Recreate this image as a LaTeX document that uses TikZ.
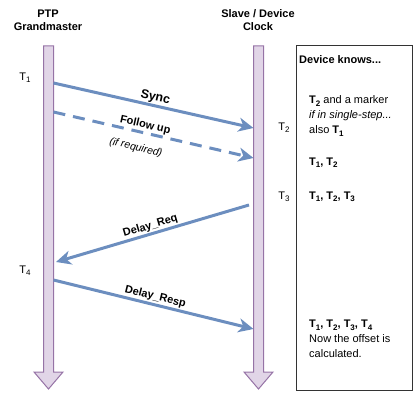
\documentclass[tikz,border=0pt]{standalone}
\usepackage{fontspec}
\setmainfont{Liberation Sans}
\usetikzlibrary{arrows.meta}
\definecolor{lifefill}{HTML}{E1D5E7}
\definecolor{lifedraw}{HTML}{9673A6}
\definecolor{msgblue}{HTML}{6C8EBF}
\newcommand\tsb[1]{T\raisebox{-.4ex}{\fontsize{8}{8}\selectfont #1}}
\tikzset{
  lifeline/.style={fill=lifefill,draw=lifedraw,line width=1pt},
  msg/.style={draw=msgblue,line width=3pt,-{Stealth[length=15pt,width=14pt,inset=4.5pt]}},
  msglabel/.style={font=\fontsize{11}{13}\selectfont\bfseries,sloped,inner sep=1pt},
  head/.style={font=\fontsize{11}{13}\selectfont\bfseries,align=center},
  tlab/.style={font=\fontsize{11}{13}\selectfont,inner sep=0pt},
  knows/.style={font=\fontsize{11}{15}\selectfont,anchor=west,align=left,inner sep=0pt},
}
\begin{document}
\begin{tikzpicture}[x=1pt,y=-1pt]
\useasboundingbox (0,0) rectangle (416,404);
% headers
\node[head] (hgm) at (48,20) {PTP\\Grandmaster};
\node[head] (hsl) at (258,20) {Slave / Device\\Clock};
% lifelines
\path[lifeline] (43.5,46) -- (53.5,46) -- (53.5,372) -- (63,372) -- (48.5,389) -- (34,372) -- (43.5,372) -- cycle;
\path[lifeline] (253.5,46) -- (263.5,46) -- (263.5,372) -- (273,372) -- (258.5,389) -- (244,372) -- (253.5,372) -- cycle;
% device box
\node[draw=black!80,line width=1pt,minimum width=116pt,minimum height=345pt,inner sep=0pt,anchor=north west] (box) at (296,45) {};
% endpoints
\coordinate (s1) at (53.5,83);
\coordinate (s2) at (253.5,128);
\coordinate (f1) at (53.5,112);
\coordinate (f2) at (253.5,158);
\coordinate (r1) at (249,205);
\coordinate (r2) at (56,262);
\coordinate (p1) at (53.5,280);
\coordinate (p2) at (253.5,329);
% messages
\draw[msg] (s1) -- node[msglabel,above,font=\fontsize{12.5}{14}\selectfont\bfseries] (lsync) {Sync} (s2);
\draw[msg,dash pattern=on 12pt off 8pt] (f1) -- node[msglabel,above,pos=0.45] (lfol) {Follow up}
   node[sloped,below=9pt,pos=0.43,font=\fontsize{10.5}{12}\selectfont\itshape,inner sep=1pt] (lreq) {(if required)} (f2);
\draw[msg] (r1) -- node[msglabel,above] (ldreq) {Delay\_Req} (r2);
\draw[msg] (p1) -- node[msglabel,above] (ldresp) {Delay\_Resp} (p2);
% time labels
\node[tlab] (t1) at (25,78) {\tsb{1}};
\node[tlab] (t2) at (284,128) {\tsb{2}};
\node[tlab] (t3) at (284,197) {\tsb{3}};
\node[tlab] (t4) at (25,271) {\tsb{4}};
% box texts
\node[knows,font=\fontsize{11}{13}\selectfont\bfseries] (k0) at (299,60) {Device knows...};
\node[knows] (k1) at (309,116) {\textbf{\tsb{2}} and a marker\\ \textit{if in single-step...}\\ also \textbf{\tsb{1}}};
\node[knows,font=\fontsize{11}{13}\selectfont\bfseries] (k2) at (309,163) {\tsb{1}, \tsb{2}};
\node[knows,font=\fontsize{11}{13}\selectfont\bfseries] (k3) at (309,197) {\tsb{1}, \tsb{2}, \tsb{3}};
\node[knows] (k4) at (309,339) {\textbf{\tsb{1}, \tsb{2}, \tsb{3}, \tsb{4}}\\ Now the offset is\\ calculated.};
\end{tikzpicture}
\end{document}
